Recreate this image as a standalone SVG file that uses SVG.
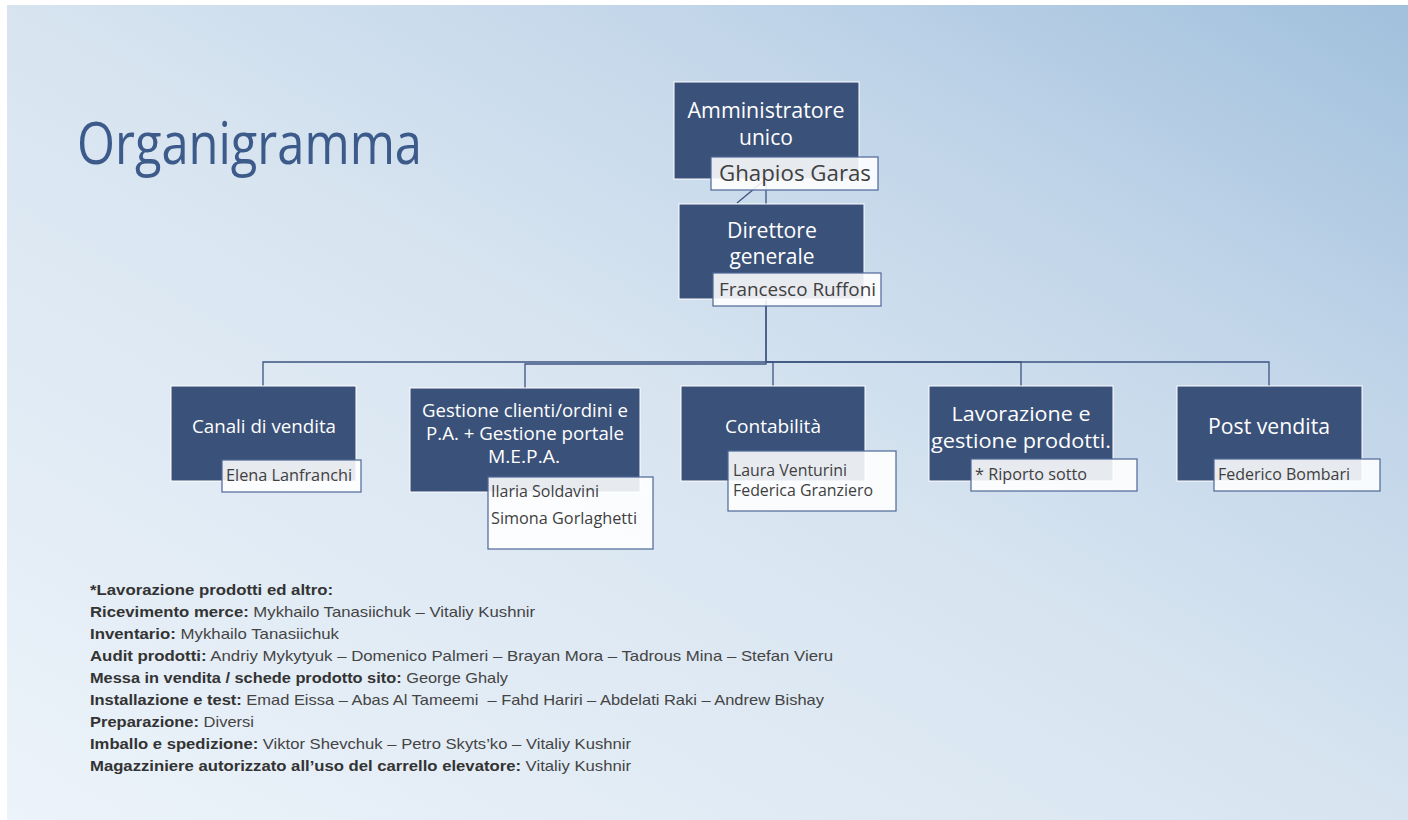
<svg xmlns="http://www.w3.org/2000/svg" width="1408" height="820" viewBox="0 0 1408 820">
<defs>
<linearGradient id="bg" x1="0" y1="1" x2="1" y2="0">
<stop offset="0" stop-color="#ecf3fa"/>
<stop offset="0.5" stop-color="#d7e4f0"/>
<stop offset="0.75" stop-color="#c1d5e9"/>
<stop offset="1" stop-color="#a1c0dc"/>
</linearGradient>
<style>
.box{fill:#3a5179;stroke:#ffffff;stroke-width:1}
.lbl{fill:#ffffff;fill-opacity:0.88;stroke:#4d6696;stroke-width:1.2}
.bt{font-family:"Open Sans","Noto Sans",sans-serif;fill:#ffffff;text-anchor:middle}
.lt{font-family:"Open Sans","Noto Sans",sans-serif;fill:#3f3f3f}
.con{fill:none;stroke:#3d5480;stroke-width:1.3}
.note{font-family:"Liberation Sans",Arial,sans-serif;font-size:14.5px;fill:#444444;white-space:pre}
.note .b{font-weight:bold;fill:#333333}
</style>
</defs>
<rect x="0" y="0" width="1408" height="820" fill="#ffffff"/>
<rect x="7" y="5" width="1401" height="815" fill="url(#bg)"/>
<text x="77" y="164" font-family="'Open Sans','Noto Sans',sans-serif" font-size="58" fill="#3c5a8a" textLength="345" lengthAdjust="spacingAndGlyphs">Organigramma</text>

<g id="connectors">
<path class="con" d="M766,179 L737,203"/>
<path class="con" d="M766,179 V204"/>
<path class="con" d="M766,299 V362 H263 V386"/>
<path class="con" d="M766,299 V364 H525 V389"/>
<path class="con" d="M766,362 H773 V386"/>
<path class="con" d="M766,362 H1021 V386"/>
<path class="con" d="M766,362 H1269 V386"/>
</g>

<g id="n-amministratore">
<rect class="box" x="674" y="82" width="185" height="97"/>
<text class="bt" font-size="21" x="766" y="118" textLength="157" lengthAdjust="spacingAndGlyphs">Amministratore</text>
<text class="bt" font-size="21" x="766" y="145">unico</text>
<rect class="lbl" x="711" y="157" width="167" height="33"/>
<text class="lt" font-size="21" x="719" y="181" textLength="152" lengthAdjust="spacingAndGlyphs">Ghapios Garas</text>
</g>

<g id="n-direttore">
<rect class="box" x="679" y="204" width="185" height="95"/>
<text class="bt" font-size="21" x="772" y="238" textLength="90" lengthAdjust="spacingAndGlyphs">Direttore</text>
<text class="bt" font-size="21" x="772" y="264">generale</text>
<rect class="lbl" x="713" y="273" width="168" height="33"/>
<text class="lt" font-size="19" x="719" y="296" textLength="157" lengthAdjust="spacingAndGlyphs">Francesco Ruffoni</text>
</g>

<g id="n-canali">
<rect class="box" x="171" y="386" width="185" height="95"/>
<text class="bt" font-size="19" x="264" y="433" textLength="144" lengthAdjust="spacingAndGlyphs">Canali di vendita</text>
<rect class="lbl" x="222" y="460" width="139" height="32"/>
<text class="lt" font-size="16" x="226" y="481" textLength="126" lengthAdjust="spacingAndGlyphs">Elena Lanfranchi</text>
</g>

<g id="n-gestione">
<rect class="box" x="410" y="388" width="230" height="104"/>
<text class="bt" font-size="18" x="525" y="417" textLength="206" lengthAdjust="spacingAndGlyphs">Gestione clienti/ordini e</text>
<text class="bt" font-size="18" x="525" y="440" textLength="198" lengthAdjust="spacingAndGlyphs">P.A. + Gestione portale</text>
<text class="bt" font-size="18" x="524" y="463" textLength="72" lengthAdjust="spacingAndGlyphs">M.E.P.A.</text>
<rect class="lbl" x="488" y="477" width="165" height="72"/>
<text class="lt" font-size="16" x="491" y="497" textLength="108" lengthAdjust="spacingAndGlyphs">Ilaria Soldavini</text>
<text class="lt" font-size="16" x="491" y="524" textLength="146" lengthAdjust="spacingAndGlyphs">Simona Gorlaghetti</text>
</g>

<g id="n-contabilita">
<rect class="box" x="681" y="386" width="184" height="95"/>
<text class="bt" font-size="18" x="773" y="433" textLength="96" lengthAdjust="spacingAndGlyphs">Contabilità</text>
<rect class="lbl" x="728" y="451" width="168" height="60"/>
<text class="lt" font-size="16" x="733" y="476" textLength="114" lengthAdjust="spacingAndGlyphs">Laura Venturini</text>
<text class="lt" font-size="16" x="733" y="496" textLength="140" lengthAdjust="spacingAndGlyphs">Federica Granziero</text>
</g>

<g id="n-lavorazione">
<rect class="box" x="929" y="386" width="184" height="95"/>
<text class="bt" font-size="20" x="1021" y="421" textLength="139" lengthAdjust="spacingAndGlyphs">Lavorazione e</text>
<text class="bt" font-size="20" x="1021" y="448" textLength="180" lengthAdjust="spacingAndGlyphs">gestione prodotti.</text>
<rect class="lbl" x="971" y="459" width="166" height="32"/>
<text class="lt" font-size="16" x="975" y="480" textLength="112" lengthAdjust="spacingAndGlyphs">* Riporto sotto</text>
</g>

<g id="n-postvendita">
<rect class="box" x="1177" y="386" width="185" height="95"/>
<text class="bt" font-size="21" x="1269" y="434" textLength="122" lengthAdjust="spacingAndGlyphs">Post vendita</text>
<rect class="lbl" x="1214" y="459" width="166" height="32"/>
<text class="lt" font-size="16" x="1218" y="480" textLength="132" lengthAdjust="spacingAndGlyphs">Federico Bombari</text>
</g>

<g id="note">
<text class="note" x="90" y="595" textLength="243" lengthAdjust="spacingAndGlyphs"><tspan class="b">*Lavorazione prodotti ed altro:</tspan></text>
<text class="note" x="90" y="617" textLength="445" lengthAdjust="spacingAndGlyphs"><tspan class="b">Ricevimento merce:</tspan> Mykhailo Tanasiichuk – Vitaliy Kushnir</text>
<text class="note" x="90" y="639" textLength="249" lengthAdjust="spacingAndGlyphs"><tspan class="b">Inventario:</tspan> Mykhailo Tanasiichuk</text>
<text class="note" x="90" y="661" textLength="743" lengthAdjust="spacingAndGlyphs"><tspan class="b">Audit prodotti:</tspan> Andriy Mykytyuk – Domenico Palmeri – Brayan Mora – Tadrous Mina – Stefan Vieru</text>
<text class="note" x="90" y="683" textLength="418" lengthAdjust="spacingAndGlyphs"><tspan class="b">Messa in vendita / schede prodotto sito:</tspan> George Ghaly</text>
<text class="note" x="90" y="705" textLength="734" lengthAdjust="spacingAndGlyphs"><tspan class="b">Installazione e test:</tspan> Emad Eissa – Abas Al Tameemi  – Fahd Hariri – Abdelati Raki – Andrew Bishay</text>
<text class="note" x="90" y="727" textLength="164" lengthAdjust="spacingAndGlyphs"><tspan class="b">Preparazione:</tspan> Diversi</text>
<text class="note" x="90" y="749" textLength="541" lengthAdjust="spacingAndGlyphs"><tspan class="b">Imballo e spedizione:</tspan> Viktor Shevchuk – Petro Skyts’ko – Vitaliy Kushnir</text>
<text class="note" x="90" y="771" textLength="541" lengthAdjust="spacingAndGlyphs"><tspan class="b">Magazziniere autorizzato all’uso del carrello elevatore:</tspan> Vitaliy Kushnir</text>
</g>
</svg>
